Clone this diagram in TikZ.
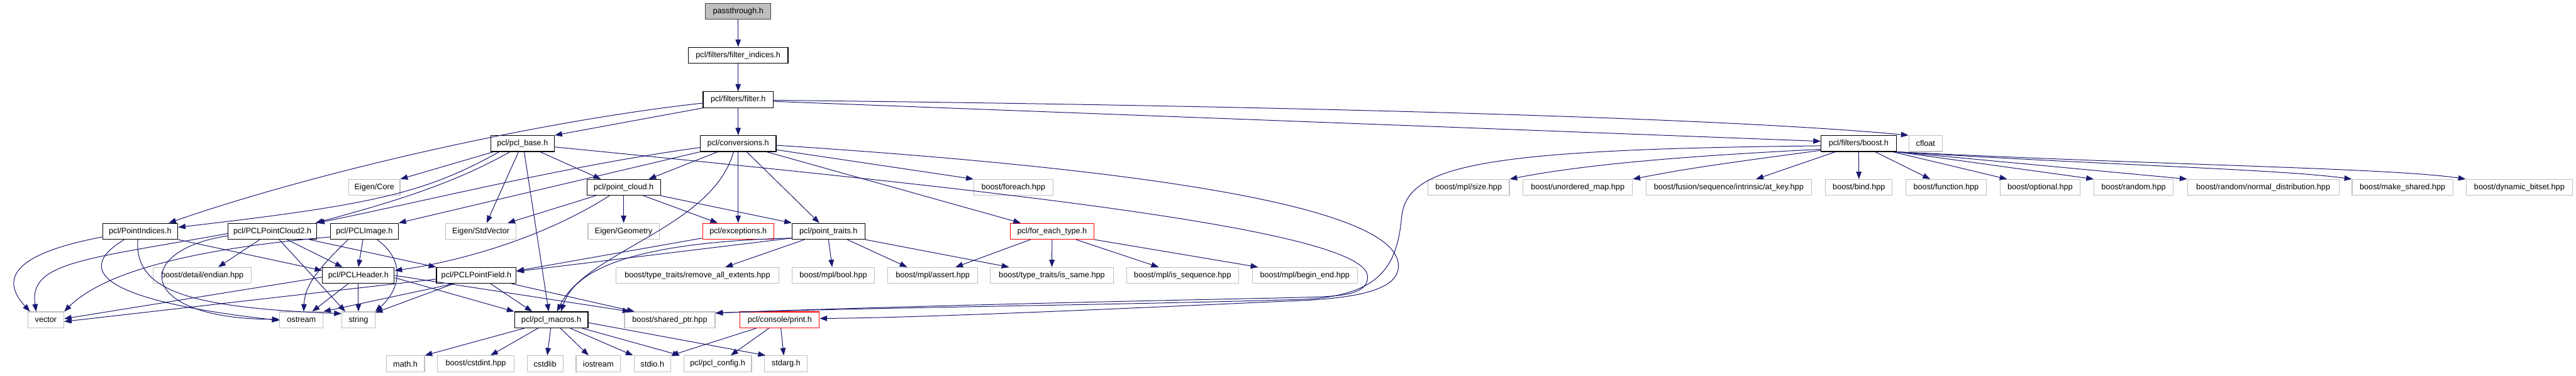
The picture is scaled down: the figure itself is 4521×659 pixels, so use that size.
\documentclass[tikz,border=0pt]{standalone}
\usepackage{fontspec}
\setmainfont{Liberation Sans}
\usetikzlibrary{arrows.meta}
\definecolor{edgec}{HTML}{191970}
\definecolor{extc}{HTML}{BFBFBF}
\definecolor{rootb}{HTML}{404040}
\tikzset{
  nbox/.style={rectangle, minimum height=28pt, inner sep=0pt, font=\fontsize{14}{16}\selectfont, fill=white, line width=1.2pt},
  doc/.style={nbox, draw=black},
  ext/.style={nbox, draw=extc},
  trunc/.style={nbox, draw=red},
  root/.style={nbox, draw=rootb, fill=extc},
  e/.style={draw=edgec, line width=1.1pt, -{Triangle[length=13pt,width=9.5pt]}}
}
\begin{document}
\begin{tikzpicture}[x=1pt,y=-1pt]
\useasboundingbox[fill=white] (0,0) rectangle (4521,659);
% row 0-2
\node[root, minimum width=115pt] (pass) at (1295.5,20) {passthrough.h};
\node[doc, minimum width=175pt] (fi) at (1295.5,97) {pcl/filters/filter\_indices.h};
\node[doc, minimum width=123pt] (filt) at (1295.5,175) {pcl/filters/filter.h};
% row 3
\node[doc, minimum width=112pt] (base) at (917,252) {pcl/pcl\_base.h};
\node[doc, minimum width=133pt] (conv) at (1295.5,252) {pcl/conversions.h};
\node[doc, minimum width=132pt] (bh) at (3262,252) {pcl/filters/boost.h};
\node[ext, minimum width=59pt] (cf) at (3379.5,252) {cfloat};
% row 4
\node[ext, minimum width=90pt] (ec) at (657,329) {Eigen/Core};
\node[doc, minimum width=129pt] (pcd) at (1094.5,329) {pcl/point\_cloud.h};
\node[ext, minimum width=139pt] (fh) at (1778.5,329) {boost/foreach.hpp};
\node[ext, minimum width=143pt] (sz) at (2577.5,329) {boost/mpl/size.hpp};
\node[ext, minimum width=192pt] (um) at (2769,329) {boost/unordered\_map.hpp};
\node[ext, minimum width=290pt] (ak) at (3034,329) {boost/fusion/sequence/intrinsic/at\_key.hpp};
\node[ext, minimum width=117pt] (bind) at (3262.5,329) {boost/bind.hpp};
\node[ext, minimum width=141pt] (fn) at (3415.5,329) {boost/function.hpp};
\node[ext, minimum width=141pt] (op) at (3580.5,329) {boost/optional.hpp};
\node[ext, minimum width=139pt] (rnd) at (3744.5,329) {boost/random.hpp};
\node[ext, minimum width=266pt] (nd) at (3972,329) {boost/random/normal\_distribution.hpp};
\node[ext, minimum width=177pt] (ms) at (4216.5,329) {boost/make\_shared.hpp};
\node[ext, minimum width=187pt] (db) at (4421.5,329) {boost/dynamic\_bitset.hpp};
% row 5
\node[doc, minimum width=132pt] (pi) at (246,406) {pcl/PointIndices.h};
\node[doc, minimum width=156pt] (pc2) at (478,406) {pcl/PCLPointCloud2.h};
\node[doc, minimum width=119pt] (pim) at (639.5,406) {pcl/PCLImage.h};
\node[ext, minimum width=124pt] (sv) at (844,406) {Eigen/StdVector};
\node[ext, minimum width=125pt] (geo) at (1094.5,406) {Eigen/Geometry};
\node[trunc, minimum width=125pt] (exc) at (1295.5,406) {pcl/exceptions.h};
\node[doc, minimum width=128pt] (pt) at (1454,406) {pcl/point\_traits.h};
\node[trunc, minimum width=147pt] (fe) at (1846.5,406) {pcl/for\_each\_type.h};
% row 6
\node[ext, minimum width=172pt] (endi) at (355,483.5) {boost/detail/endian.hpp};
\node[doc, minimum width=126pt] (ph) at (629,483.5) {pcl/PCLHeader.h};
\node[doc, minimum width=140pt] (pf) at (836,483.5) {pcl/PCLPointField.h};
\node[ext, minimum width=286pt] (rae) at (1224,483.5) {boost/type\_traits/remove\_all\_extents.hpp};
\node[ext, minimum width=145pt] (bl) at (1462.5,483.5) {boost/mpl/bool.hpp};
\node[ext, minimum width=158pt] (as) at (1637,483.5) {boost/mpl/assert.hpp};
\node[ext, minimum width=216pt] (iss) at (1846,483.5) {boost/type\_traits/is\_same.hpp};
\node[ext, minimum width=197pt] (iseq) at (2075.5,483.5) {boost/mpl/is\_sequence.hpp};
\node[ext, minimum width=184pt] (be) at (2290,483.5) {boost/mpl/begin\_end.hpp};
% row 7
\node[ext, minimum width=63pt] (vec) at (80.5,561.5) {vector};
\node[ext, minimum width=76pt] (os) at (529,561.5) {ostream};
\node[ext, minimum width=58pt] (str) at (629,561.5) {string};
\node[doc, minimum width=129pt] (pm) at (967.5,561.5) {pcl/pcl\_macros.h};
\node[ext, minimum width=159pt] (sp) at (1175.5,561.5) {boost/shared\_ptr.hpp};
\node[trunc, minimum width=139pt] (pr) at (1368.5,561.5) {pcl/console/print.h};
% row 8
\node[ext, minimum width=67pt] (mh) at (711.5,638.5) {math.h};
\node[ext, minimum width=134pt] (ci) at (835,638.5) {boost/cstdint.hpp};
\node[ext, minimum width=63pt] (cl) at (956.5,638.5) {cstdlib};
\node[ext, minimum width=78pt] (io) at (1050,638.5) {iostream};
\node[ext, minimum width=64pt] (sio) at (1145,638.5) {stdio.h};
\node[ext, minimum width=119pt] (cfg) at (1259.5,638.5) {pcl/pcl\_config.h};
\node[ext, minimum width=75pt] (sa) at (1379.5,638.5) {stdarg.h};

% ---- edges ----
\draw[e] (pass.south) -- (fi.north);
\draw[e] (fi.south) -- (filt.north);
\draw[e] (filt.south west) -- (base.north east);
\draw[e] (filt.south) -- (conv.north);
\draw[e] ([yshift=-6pt]filt.west) .. controls (950,212) and (560,300) .. ([xshift=50pt]pi.north);
\draw[e] ([yshift=-3pt]filt.east) -- ([yshift=4pt]bh.west);
\draw[e] ([yshift=-1pt]filt.east) .. controls (2200,185) and (3000,205) .. (cf.north west);
% pcl_base
\draw[e] ([xshift=-41pt]base.south) .. controls (745,340) and (650,360) .. ([yshift=7pt]pi.east);
\draw[e] ([xshift=-51pt]base.south) -- (ec.north east);
\draw[e] ([xshift=-22pt]base.south) .. controls (800,320) and (700,352) .. ([xshift=-3pt]pc2.north east);
\draw[e] ([xshift=-7pt]base.south) -- ([xshift=10pt]sv.north);
\draw[e] ([xshift=3pt]base.south) -- ([xshift=-4.5pt]pm.north);
\draw[e] ([xshift=31pt]base.south) -- ([xshift=-40pt]pcd.north);
\draw[e] ([yshift=-6pt]base.east) .. controls (1700,330) and (2390,400) .. (2400,484) .. controls (2403,525) and (2330,520) .. (2250,523) .. controls (1900,530) and (1500,540) .. ([yshift=12pt]sp.east);
% conversions
\draw[e] ([xshift=-36pt]conv.south) -- ([xshift=44pt]pcd.north);
\draw[e] (conv.south) -- (exc.north);
\draw[e] ([xshift=15pt]conv.south) -- ([xshift=-16pt]pt.north);
\draw[e] ([xshift=-8pt]conv.south) .. controls (1250,400) and (1030,440) .. ([xshift=10pt]pm.north);
\draw[e] ([yshift=-7pt]conv.west) .. controls (1000,290) and (760,350) .. (pc2.north east);
\draw[e] (conv.south west) -- (pim.north east);
\draw[e] ([xshift=50pt]conv.south) -- ([xshift=-55pt]fe.north);
\draw[e] ([yshift=-11pt]conv.east) -- (fh.north west);
\draw[e] ([yshift=-3pt]conv.east) .. controls (1900,290) and (2440,350) .. (2454,462) .. controls (2460,510) and (2380,525) .. (2250,529) .. controls (1900,545) and (1600,558) .. ([yshift=2.5pt]pr.east);
% point_cloud
\draw[e] ([xshift=-49pt]pcd.south) -- ([xshift=47pt]sv.north);
\draw[e] (pcd.south) -- (geo.north);
\draw[e] ([xshift=35pt]pcd.south) -- ([xshift=-36pt]exc.north);
\draw[e] (pcd.south east) -- (pt.north west);
\draw[e] ([xshift=-25pt]pcd.south) .. controls (950,420) and (800,460) .. ([yshift=8.5pt]ph.east);
% PointIndices
\draw[e] ([yshift=-10pt]pi.west) .. controls (0,450) and (10,500) .. ([xshift=-28pt]vec.north);
\draw[e] ([xshift=-28pt]pi.south) .. controls (120,480) and (200,530) .. ([yshift=-1pt]os.west);
\draw[e] ([xshift=-4pt]pi.south) .. controls (235,510) and (330,540) .. ([yshift=11pt]str.west);
\draw[e] (pi.south east) -- ([yshift=-6pt]ph.north west);
% PCLPointCloud2
\draw[e] ([yshift=-4pt]pc2.west) .. controls (150,455) and (50,460) .. ([xshift=-17pt]vec.north);
\draw[e] ([yshift=-8pt]pc2.west) .. controls (230,440) and (240,560) .. ([yshift=1pt]os.west);
\draw[e] ([xshift=-22pt]pc2.south) -- ([xshift=28pt]endi.north);
\draw[e] ([xshift=12pt]pc2.south) -- ([xshift=-23pt]str.north);
\draw[e] ([xshift=26pt]pc2.south) -- ([xshift=-28pt]ph.north);
\draw[e] ([xshift=65pt]pc2.south) -- (pf.north west);
% PCLImage
\draw[e] ([yshift=-10pt]pim.west) .. controls (420,430) and (200,460) .. (vec.north east);
\draw[e] ([xshift=-28.5pt]pim.south) .. controls (560,470) and (535,500) .. ([xshift=4pt]os.north);
\draw[e] ([xshift=-2.5pt]pim.south) -- (ph.north);
\draw[e] ([xshift=22.5pt]pim.south) .. controls (715,460) and (700,510) .. (str.north east);
% PCLHeader
\draw[e] ([yshift=-3pt]ph.west) -- ([yshift=2pt]vec.east);
\draw[e] ([xshift=-18pt]ph.south) -- ([xshift=19pt]os.north);
\draw[e] (ph.south) -- (str.north);
\draw[e] ([yshift=-4pt]ph.east) -- (pm.north west);
\draw[e] (ph.east) -- ([xshift=-70pt]sp.north);
% PCLPointField
\draw[e] ([yshift=-6.5pt]pf.west) -- ([yshift=-3pt]vec.east);
\draw[e] ([xshift=-40pt]pf.south) -- ([yshift=-2pt]str.north east);
\draw[e] ([xshift=-40pt]pf.south) -- (os.north east);
\draw[e] ([xshift=25pt]pf.south) -- ([xshift=-33.5pt]pm.north);
\draw[e] ([xshift=62pt]pf.south) -- ([xshift=-62pt]sp.north);
% exceptions, point_traits
\draw[e] ([yshift=-12pt]exc.west) -- ([yshift=8pt]pf.east);
\draw[e] ([yshift=-12pt]pt.west) -- ([yshift=7pt]pf.east);
\draw[e] ([yshift=-12pt]pt.west) .. controls (1120,425) and (1010,470) .. ([xshift=17pt]pm.north);
\draw[e] ([xshift=-42pt]pt.south) -- ([xshift=49pt]rae.north);
\draw[e] (pt.south) -- ([xshift=-2pt]bl.north);
\draw[e] ([xshift=33pt]pt.south) -- ([xshift=-45pt]as.north);
\draw[e] (pt.south east) -- ([xshift=-75pt]iss.north);
% for_each_type
\draw[e] ([xshift=-38pt]fe.south) -- ([xshift=40pt]as.north);
\draw[e] (fe.south) -- (iss.north);
\draw[e] ([xshift=42pt]fe.south) -- ([xshift=-42pt]iseq.north);
\draw[e] (fe.south east) -- ([xshift=-82pt]be.north);
% pcl_macros
\draw[e] ([xshift=-47pt]pm.south) -- (mh.north east);
\draw[e] ([xshift=-23pt]pm.south) -- ([xshift=26pt]ci.north);
\draw[e] ([xshift=-1pt]pm.south) -- ([xshift=4pt]cl.north);
\draw[e] ([xshift=16pt]pm.south) -- ([xshift=-17pt]io.north);
\draw[e] ([xshift=33pt]pm.south) -- ([xshift=-34pt]sio.north);
\draw[e] ([xshift=54pt]pm.south) -- ([xshift=-66pt]cfg.north);
\draw[e] ([yshift=-5pt]pm.east) -- ([xshift=-36pt]sa.north);
% print
\draw[e] ([xshift=-41pt]pr.south) -- (sio.north east);
\draw[e] ([xshift=-19pt]pr.south) -- ([xshift=23pt]cfg.north);
\draw[e] ([xshift=2pt]pr.south) -- ([xshift=-4pt]sa.north);
% boost.h
\draw[e] ([yshift=-10pt]bh.west) .. controls (3000,272) and (2800,285) .. (sz.north east);
\draw[e] ([yshift=-12pt]bh.west) .. controls (3000,290) and (2950,298) .. (um.north east);
\draw[e] ([xshift=-41pt]bh.south) -- ([xshift=48pt]ak.north);
\draw[e] (bh.south) -- (bind.north);
\draw[e] ([xshift=29pt]bh.south) -- ([xshift=-28pt]fn.north);
\draw[e] ([xshift=60pt]bh.south) -- ([xshift=-58pt]op.north);
\draw[e] (bh.south east) -- (rnd.north west);
\draw[e] (bh.south east) -- (nd.north west);
\draw[e] (bh.south east) .. controls (3700,290) and (4000,297) .. (ms.north west);
\draw[e] (bh.south east) .. controls (3800,290) and (4200,295) .. (db.north west);
\draw[e] ([yshift=-4pt]bh.west) .. controls (2600,262) and (2470,290) .. (2460,380) .. controls (2452,470) and (2420,515) .. (2300,525) .. controls (2000,535) and (1500,540) .. ([yshift=12pt]sp.east);
\end{tikzpicture}
\end{document}
